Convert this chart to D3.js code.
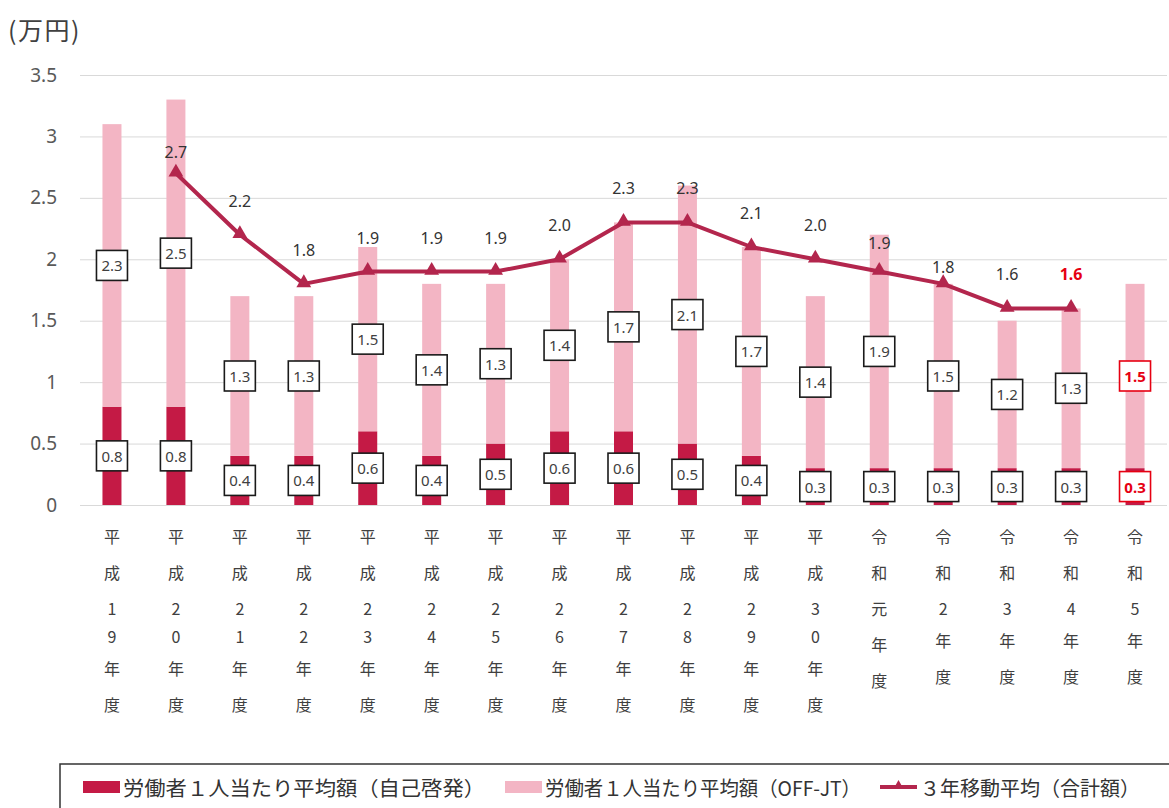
<!DOCTYPE html>
<html lang="ja">
<head>
<meta charset="utf-8">
<title>労働者1人当たり平均額の推移</title>
<script src="https://cdn.jsdelivr.net/npm/d3@7/dist/d3.min.js"></script>
<style>
  html, body { margin: 0; padding: 0; background: #fff; }
  svg { display: block; font-family: "Noto Sans CJK JP", "Noto Sans", sans-serif; }
</style>
</head>
<body>
<svg id="chart" width="1169" height="808"></svg>
<script>
// 年度
const categories = [
  "平成19年度", "平成20年度", "平成21年度", "平成22年度", "平成23年度",
  "平成24年度", "平成25年度", "平成26年度", "平成27年度", "平成28年度",
  "平成29年度", "平成30年度", "令和元年度", "令和2年度", "令和3年度",
  "令和4年度", "令和5年度"
];
// 労働者1人当たり平均額（自己啓発）万円
const selfDev = [0.8, 0.8, 0.4, 0.4, 0.6, 0.4, 0.5, 0.6, 0.6, 0.5, 0.4, 0.3, 0.3, 0.3, 0.3, 0.3, 0.3];
// 労働者1人当たり平均額（OFF-JT）万円
const offJT = [2.3, 2.5, 1.3, 1.3, 1.5, 1.4, 1.3, 1.4, 1.7, 2.1, 1.7, 1.4, 1.9, 1.5, 1.2, 1.3, 1.5];
// 3年移動平均（合計額）万円
const movingAvg = [null, 2.7, 2.2, 1.8, 1.9, 1.9, 1.9, 2.0, 2.3, 2.3, 2.1, 2.0, 1.9, 1.8, 1.6, 1.6, null];
const yTicks = [0, 0.5, 1, 1.5, 2, 2.5, 3, 3.5];
const unitLabel = "(万円)";
const legendLabels = [
  "労働者１人当たり平均額（自己啓発）",
  "労働者１人当たり平均額（OFF-JT）",
  "３年移動平均（合計額）"
];

const COLOR_DARK = "#c41a45";
const COLOR_LIGHT = "#f3b5c4";
const COLOR_LINE = "#b3264d";
const COLOR_HIGHLIGHT = "#e60012";
const TEXT = "#333333";

const svg = d3.select("#chart");
const fmt = d3.format(".1f");

const x = d3.scaleBand().domain(categories).range([80, 1167]).padding(0);
const y = d3.scaleLinear().domain([0, 3.5]).range([505, 75]);
const barW = 19;
const cx = c => x(c) + x.bandwidth() / 2;

// unit label
svg.append("text")
  .attr("x", 8).attr("y", 29)
  .attr("dominant-baseline", "central")
  .attr("font-size", 25).attr("fill", "#404040")
  .attr("letter-spacing", 1.5)
  .text(unitLabel);

// gridlines + y axis labels
const yAxis = d3.axisLeft(y).tickValues(yTicks).tickSize(-(1167 - 80)).tickFormat(d3.format("~g"));
const gy = svg.append("g").attr("transform", "translate(80,0)").call(yAxis);
gy.select(".domain").remove();
gy.selectAll(".tick line").attr("stroke", "#d9d9d9").attr("stroke-width", 1);
gy.selectAll(".tick text")
  .attr("x", -23).attr("font-size", 19).attr("fill", "#595959")
  .attr("font-family", "'Noto Sans', sans-serif");

const rows = categories.map((c, i) => ({
  cat: c, self: selfDev[i], off: offJT[i], avg: movingAvg[i], i
}));
const lastIdx = categories.length - 1;

// stacked bars
const bars = svg.append("g");
bars.selectAll("rect.self").data(rows).join("rect")
  .attr("class", "self")
  .attr("x", d => cx(d.cat) - barW / 2)
  .attr("width", barW)
  .attr("y", d => y(d.self))
  .attr("height", d => y(0) - y(d.self))
  .attr("fill", COLOR_DARK);
bars.selectAll("rect.off").data(rows).join("rect")
  .attr("class", "off")
  .attr("x", d => cx(d.cat) - barW / 2)
  .attr("width", barW)
  .attr("y", d => y(d.self + d.off))
  .attr("height", d => y(d.self) - y(d.self + d.off))
  .attr("fill", COLOR_LIGHT);

// moving average line
const avgRows = rows.filter(d => d.avg != null);
const line = d3.line().x(d => cx(d.cat)).y(d => y(d.avg));
svg.append("path")
  .datum(avgRows)
  .attr("d", line)
  .attr("fill", "none")
  .attr("stroke", COLOR_LINE)
  .attr("stroke-width", 4)
  .attr("stroke-linejoin", "round");

const tri = d3.symbol().type(d3.symbolTriangle).size(95);
svg.append("g").selectAll("path").data(avgRows).join("path")
  .attr("d", tri)
  .attr("transform", d => `translate(${cx(d.cat)},${y(d.avg) - 1})`)
  .attr("fill", COLOR_LINE);

// moving average labels (a few sit lower to clear neighbouring marks)
const labelLift = { "平成20年度": 21, "令和元年度": 29, "令和2年度": 17 };
const lastAvg = avgRows[avgRows.length - 1].cat;
svg.append("g").selectAll("text").data(avgRows).join("text")
  .attr("x", d => cx(d.cat))
  .attr("y", d => y(d.avg) - (labelLift[d.cat] || 34))
  .attr("text-anchor", "middle")
  .attr("dominant-baseline", "central")
  .attr("font-size", 16)
  .attr("font-family", "'Noto Sans', sans-serif")
  .attr("font-weight", d => d.cat === lastAvg ? "bold" : "normal")
  .attr("fill", d => d.cat === lastAvg ? COLOR_HIGHLIGHT : TEXT)
  .text(d => fmt(d.avg));

// boxed value labels at the middle of each segment
const boxes = [];
rows.forEach(d => {
  boxes.push({ cat: d.cat, v: d.self, yc: y(d.self / 2), hl: d.i === lastIdx });
  boxes.push({ cat: d.cat, v: d.off, yc: y(d.self + d.off / 2), hl: d.i === lastIdx });
});
const bw = 31, bh = 30;
const bg = svg.append("g").selectAll("g").data(boxes).join("g")
  .attr("transform", d => `translate(${cx(d.cat)},${d.yc})`);
bg.append("rect")
  .attr("x", -bw / 2).attr("y", -bh / 2)
  .attr("width", bw).attr("height", bh)
  .attr("fill", "#fff")
  .attr("stroke", d => d.hl ? COLOR_HIGHLIGHT : "#1a1a1a")
  .attr("stroke-width", 1.6);
bg.append("text")
  .attr("text-anchor", "middle")
  .attr("dominant-baseline", "central")
  .attr("font-size", 15)
  .attr("font-family", "'Noto Sans', sans-serif")
  .attr("font-weight", d => d.hl ? "bold" : "normal")
  .attr("fill", d => d.hl ? COLOR_HIGHLIGHT : "#404040")
  .text(d => fmt(d.v));

// category labels, stacked one character per line
const isDigit = ch => /[0-9]/.test(ch);
const xl = svg.append("g").selectAll("text").data(categories).join("text")
  .attr("text-anchor", "middle")
  .attr("font-size", 16)
  .attr("fill", "#404040");
xl.each(function (c) {
  const chars = Array.from(c);
  let yy = 536;
  const t = d3.select(this);
  chars.forEach((ch, k) => {
    if (k > 0) {
      const prev = chars[k - 1];
      yy += (isDigit(prev) && isDigit(ch)) ? 28 : (isDigit(prev) ? 32 : 36);
    }
    t.append("tspan")
      .attr("x", cx(c))
      .attr("y", yy)
      .attr("dominant-baseline", "central")
      .text(ch);
  });
});

// legend
const lg = svg.append("g");
lg.append("rect")
  .attr("x", 60).attr("y", 764)
  .attr("width", 1140).attr("height", 80)
  .attr("fill", "#fff")
  .attr("stroke", "#333").attr("stroke-width", 1.5);
const legendY = 787;
const items = [
  { x: 83, kind: "rect", color: COLOR_DARK, label: legendLabels[0], w: 362 },
  { x: 505, kind: "rect", color: COLOR_LIGHT, label: legendLabels[1], w: 316 },
  { x: 880, kind: "line", color: COLOR_LINE, label: legendLabels[2], w: 220 }
];
items.forEach(it => {
  if (it.kind === "rect") {
    lg.append("rect")
      .attr("x", it.x).attr("y", legendY - 6)
      .attr("width", 37).attr("height", 12)
      .attr("fill", it.color);
  } else {
    lg.append("line")
      .attr("x1", it.x).attr("x2", it.x + 37)
      .attr("y1", legendY).attr("y2", legendY)
      .attr("stroke", it.color).attr("stroke-width", 4);
    lg.append("path")
      .attr("d", d3.symbol().type(d3.symbolTriangle).size(45))
      .attr("transform", `translate(${it.x + 18.5},${legendY - 1})`)
      .attr("fill", it.color);
  }
  lg.append("text")
    .attr("x", it.x + 40).attr("y", legendY)
    .attr("dominant-baseline", "central")
    .attr("font-size", 20)
    .attr("textLength", it.w)
    .attr("lengthAdjust", "spacingAndGlyphs")
    .attr("fill", "#333")
    .text(it.label);
});
</script>
</body>
</html>
